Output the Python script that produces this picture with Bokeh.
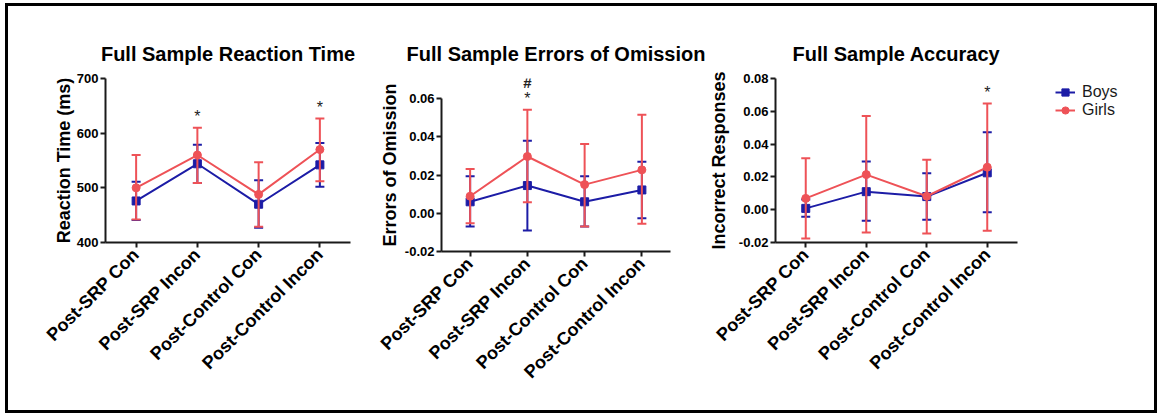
import numpy as np
from math import pi
from bokeh.plotting import figure
from bokeh.layouts import row, column
from bokeh.models import Range1d, FactorRange, FixedTicker, NumeralTickFormatter, Legend, LegendItem
from bokeh.core.properties import value
from bokeh.embed import file_html
from bokeh.resources import INLINE

conditions = ["Post-SRP Con", "Post-SRP Incon", "Post-Control Con", "Post-Control Incon"]
series_names = ["Boys", "Girls"]

# Full Sample Reaction Time (ms)
rt_boys = [476, 544, 470, 542]
rt_boys_upper = [511, 579, 514, 582]
rt_boys_lower = [441, 509, 427, 502]
rt_girls = [500, 560, 488, 570]
rt_girls_upper = [560, 610, 547, 627]
rt_girls_lower = [442, 509, 429, 512]
rt_star = ["", "*", "", "*"]
rt_hash = ["", "", "", ""]
rt_ticks = [400, 500, 600, 700]

# Full Sample Errors of Omission
om_boys = [0.006, 0.0145, 0.006, 0.0122]
om_boys_upper = [0.0194, 0.038, 0.0194, 0.027]
om_boys_lower = [-0.0069, -0.009, -0.0069, -0.0026]
om_girls = [0.0089, 0.0297, 0.015, 0.0227]
om_girls_upper = [0.0232, 0.0541, 0.0363, 0.0515]
om_girls_lower = [-0.0052, 0.0058, -0.0069, -0.0055]
om_star = ["", "*", "", ""]
om_hash = ["", "#", "", ""]
om_ticks = [-0.02, 0.0, 0.02, 0.04, 0.06]

# Full Sample Accuracy (incorrect responses)
acc_boys = [0.0008, 0.011, 0.008, 0.0225]
acc_boys_upper = [0.0062, 0.0294, 0.0222, 0.0473]
acc_boys_lower = [-0.0043, -0.0067, -0.0061, -0.0016]
acc_girls = [0.0069, 0.0214, 0.0082, 0.0259]
acc_girls_upper = [0.0314, 0.0571, 0.0304, 0.0647]
acc_girls_lower = [-0.0176, -0.0139, -0.0145, -0.0128]
acc_star = ["", "", "", "*"]
acc_hash = ["", "", "", ""]
acc_ticks = [-0.02, 0.0, 0.02, 0.04, 0.06, 0.08]

BLUE = "#1c1ca6"
RED = "#ee5257"
FONT = "Liberation Sans"
H = 404
STYLES = {"Boys": (BLUE, "square"), "Girls": (RED, "circle")}


def make_panel(title, ylabel, boys, bu, bl, girls, gu, gl, star, hsh, ticks,
               yr, bounds, width, mb_left, mb_right, mb_bottom, label_standoff,
               tick_fmt=None):
    p = figure(width=width, height=H, x_range=FactorRange(*conditions),
               y_range=Range1d(*yr), output_backend="svg", toolbar_location=None,
               min_border_left=mb_left, min_border_right=mb_right,
               min_border_top=72, min_border_bottom=mb_bottom, title=title)
    p.outline_line_color = None
    p.grid.visible = False
    p.background_fill_color = "white"
    p.border_fill_color = "white"

    p.title.text_font = FONT
    p.title.text_font_size = "20px"
    p.title.text_font_style = "bold"
    p.title.align = "center"
    p.title.text_color = "black"
    p.title.standoff = 27

    for ax in (p.xaxis[0], p.yaxis[0]):
        ax.axis_line_width = 2
        ax.axis_line_color = "#1a1a1a"
        ax.major_tick_line_width = 2
        ax.major_tick_line_color = "#1a1a1a"
        ax.major_tick_in = 0
        ax.major_tick_out = 5
        ax.minor_tick_line_color = None
        ax.major_label_text_font = FONT
        ax.major_label_text_font_style = "bold"
        ax.major_label_text_color = "black"

    ya = p.yaxis[0]
    ya.ticker = FixedTicker(ticks=ticks)
    ya.bounds = bounds
    ya.major_label_text_font_size = "13px"
    ya.major_label_standoff = 2
    ya.axis_label = ylabel
    ya.axis_label_text_font = FONT
    ya.axis_label_text_font_size = "18px"
    ya.axis_label_text_font_style = "bold"
    ya.axis_label_text_color = "black"
    ya.axis_label_standoff = label_standoff
    if tick_fmt:
        ya.formatter = NumeralTickFormatter(format=tick_fmt)

    xa = p.xaxis[0]
    xa.major_label_orientation = pi / 4
    xa.major_label_text_font_size = "18px"
    xa.major_label_standoff = 4

    for name, mean, up, lo in (("Boys", boys, bu, bl), ("Girls", girls, gu, gl)):
        col, marker = STYLES[name]
        p.segment(x0=conditions, y0=lo, x1=conditions, y1=up, line_color=col, line_width=2)
        p.scatter(x=conditions, y=up, marker="dash", size=9, line_color=col, line_width=2)
        p.scatter(x=conditions, y=lo, marker="dash", size=9, line_color=col, line_width=2)
        p.line(x=conditions, y=mean, line_color=col, line_width=2)
        p.scatter(x=conditions, y=mean, marker=marker, size=8, fill_color=col, line_color=col)

    top = list(np.maximum(np.array(bu), np.array(gu)))
    p.text(x=conditions, y=top, text=star, text_align="center",
           text_baseline="alphabetic", y_offset=-11, text_font=value(FONT),
           text_font_size="16px", text_color="#222222")
    p.text(x=conditions, y=top, text=hsh, text_align="center",
           text_baseline="alphabetic", y_offset=-27, text_font=value(FONT),
           text_font_size="15px", text_font_style="bold", text_color="#222222")
    return p


p1 = make_panel("Full Sample Reaction Time", "Reaction Time (ms)",
                rt_boys, rt_boys_upper, rt_boys_lower,
                rt_girls, rt_girls_upper, rt_girls_lower, rt_star, rt_hash, rt_ticks,
                (400, 700), (400, 700), 368, 97, 26, 168, 0)
p2 = make_panel("Full Sample Errors of Omission", "Errors of Omission",
                om_boys, om_boys_upper, om_boys_lower,
                om_girls, om_girls_upper, om_girls_lower, om_star, om_hash, om_ticks,
                (-0.02, 0.0705), (-0.02, 0.06), 329, 64, 35, 159, 2, tick_fmt="0.00")
p3 = make_panel("Full Sample Accuracy", "Incorrect Responses",
                acc_boys, acc_boys_upper, acc_boys_lower,
                acc_girls, acc_girls_upper, acc_girls_lower, acc_star, acc_hash, acc_ticks,
                (-0.02, 0.08), (-0.02, 0.08), 345, 67, 33, 168, 7, tick_fmt="0.00")

# legend panel: placeholder renderers (a single NaN point, nothing is drawn)
# carry the series styles so the legend shows line + marker for each group
pl = figure(width=104, height=H, x_range=Range1d(0, 1), y_range=Range1d(0, 1),
            output_backend="svg", toolbar_location=None, min_border_left=0,
            min_border_right=0, min_border_top=72, min_border_bottom=168)
pl.axis.visible = False
pl.grid.visible = False
pl.outline_line_color = None
items = []
for name in series_names:
    col, marker = STYLES[name]
    empty = np.array([np.nan])
    ln = pl.line(x=empty, y=empty, line_color=col, line_width=2)
    mk = pl.scatter(x=empty, y=empty, marker=marker, size=7, fill_color=col, line_color=col)
    items.append(LegendItem(label=name, renderers=[ln, mk]))
lg = Legend(items=items, location="top_left", margin=5, padding=0, spacing=0,
            glyph_width=20, glyph_height=18, label_height=18, label_standoff=7,
            label_text_font=FONT, label_text_font_size="16px",
            label_text_color="#1a1a1a",
            border_line_color=None, background_fill_alpha=0)
pl.add_layout(lg, "center")

layout = row(column(p1), column(p2), column(p3), column(pl), margin=(3, 0, 0, 5),
             styles={"border": "3px solid black", "background-color": "white"})

open("out.html", "w").write(file_html(layout, INLINE))
